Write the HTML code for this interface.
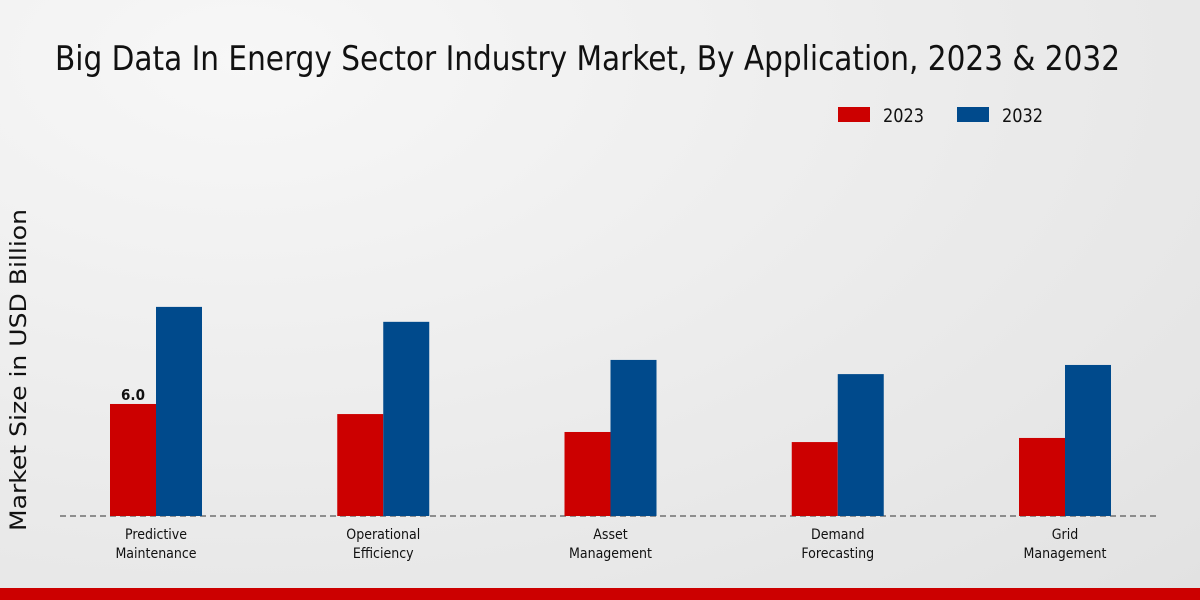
<!DOCTYPE html>
<html><head><meta charset="utf-8"><style>
html,body{margin:0;padding:0;width:1200px;height:600px;overflow:hidden}
body{background:radial-gradient(ellipse at 20% 10%,#f7f7f7 0%,#ebebeb 55%,#e2e2e2 100%);font-family:"DejaVu Sans Condensed","Liberation Sans",sans-serif}
text{font-family:"DejaVu Sans Condensed","Liberation Sans",sans-serif}
</style></head><body>
<svg id="chart" width="1200" height="600" xmlns="http://www.w3.org/2000/svg">
<text x="55" y="70" font-size="34" fill="#111" textLength="1065" lengthAdjust="spacingAndGlyphs">Big Data In Energy Sector Industry Market, By Application, 2023 &amp; 2032</text>
<g>
<rect x="838" y="107" width="32" height="15" fill="#cc0000"/>
<text x="883" y="122" font-size="19" fill="#111" textLength="41" lengthAdjust="spacingAndGlyphs">2023</text>
<rect x="957" y="107" width="32" height="15" fill="#004a8c"/>
<text x="1002" y="122" font-size="19" fill="#111" textLength="41" lengthAdjust="spacingAndGlyphs">2032</text>
</g>
<text transform="translate(26,370) rotate(-90)" text-anchor="middle" font-size="22" fill="#111" style="font-family:'DejaVu Sans','Liberation Sans',sans-serif" textLength="322" lengthAdjust="spacingAndGlyphs">Market Size in USD Billion</text>
<line x1="60" y1="516" x2="1160" y2="516" stroke="#333" stroke-width="1" stroke-dasharray="6,4"/>
<g id="bars"></g>
<rect x="0" y="588" width="1200" height="12" fill="#cc0000"/>
</svg>
<script>
const categories=[["Predictive","Maintenance"],["Operational","Efficiency"],["Asset","Management"],["Demand","Forecasting"],["Grid","Management"]];
const values2023=[6.0,5.46,4.5,3.96,4.18];
const values2032=[11.2,10.4,8.36,7.6,8.09];
const shownLabels=["6.0",null,null,null,null];
const NS="http://www.w3.org/2000/svg";
const g=document.getElementById('bars');
const base=516, scale=18.67;
function xCenter(i){return 156+i*227.25;}
function yPos(v){return base-v*scale;}
function mk(tag,attrs){const e=document.createElementNS(NS,tag);for(const k in attrs)e.setAttribute(k,attrs[k]);g.appendChild(e);return e;}
categories.forEach((c,i)=>{
  const cx=xCenter(i);
  const r=mk('rect',{x:cx-46,y:yPos(values2023[i]),width:46,height:base-yPos(values2023[i]),fill:'#cc0000'});
  
  
  const b=mk('rect',{x:cx,y:yPos(values2032[i]),width:46,height:base-yPos(values2032[i]),fill:'#004a8c'});
  
  
  if(shownLabels[i]){
    const t=mk('text',{x:cx-23,y:yPos(values2023[i])-4,'text-anchor':'middle','font-size':15,'font-weight':'bold',fill:'#111'});
    t.textContent=shownLabels[i];
    
    
  }
  c.forEach((line,j)=>{
    const t=mk('text',{x:cx,y:539+j*19,'text-anchor':'middle','font-size':14,fill:'#111'});
    t.textContent=line;
    
    
  });
});
</script>
</body></html>
